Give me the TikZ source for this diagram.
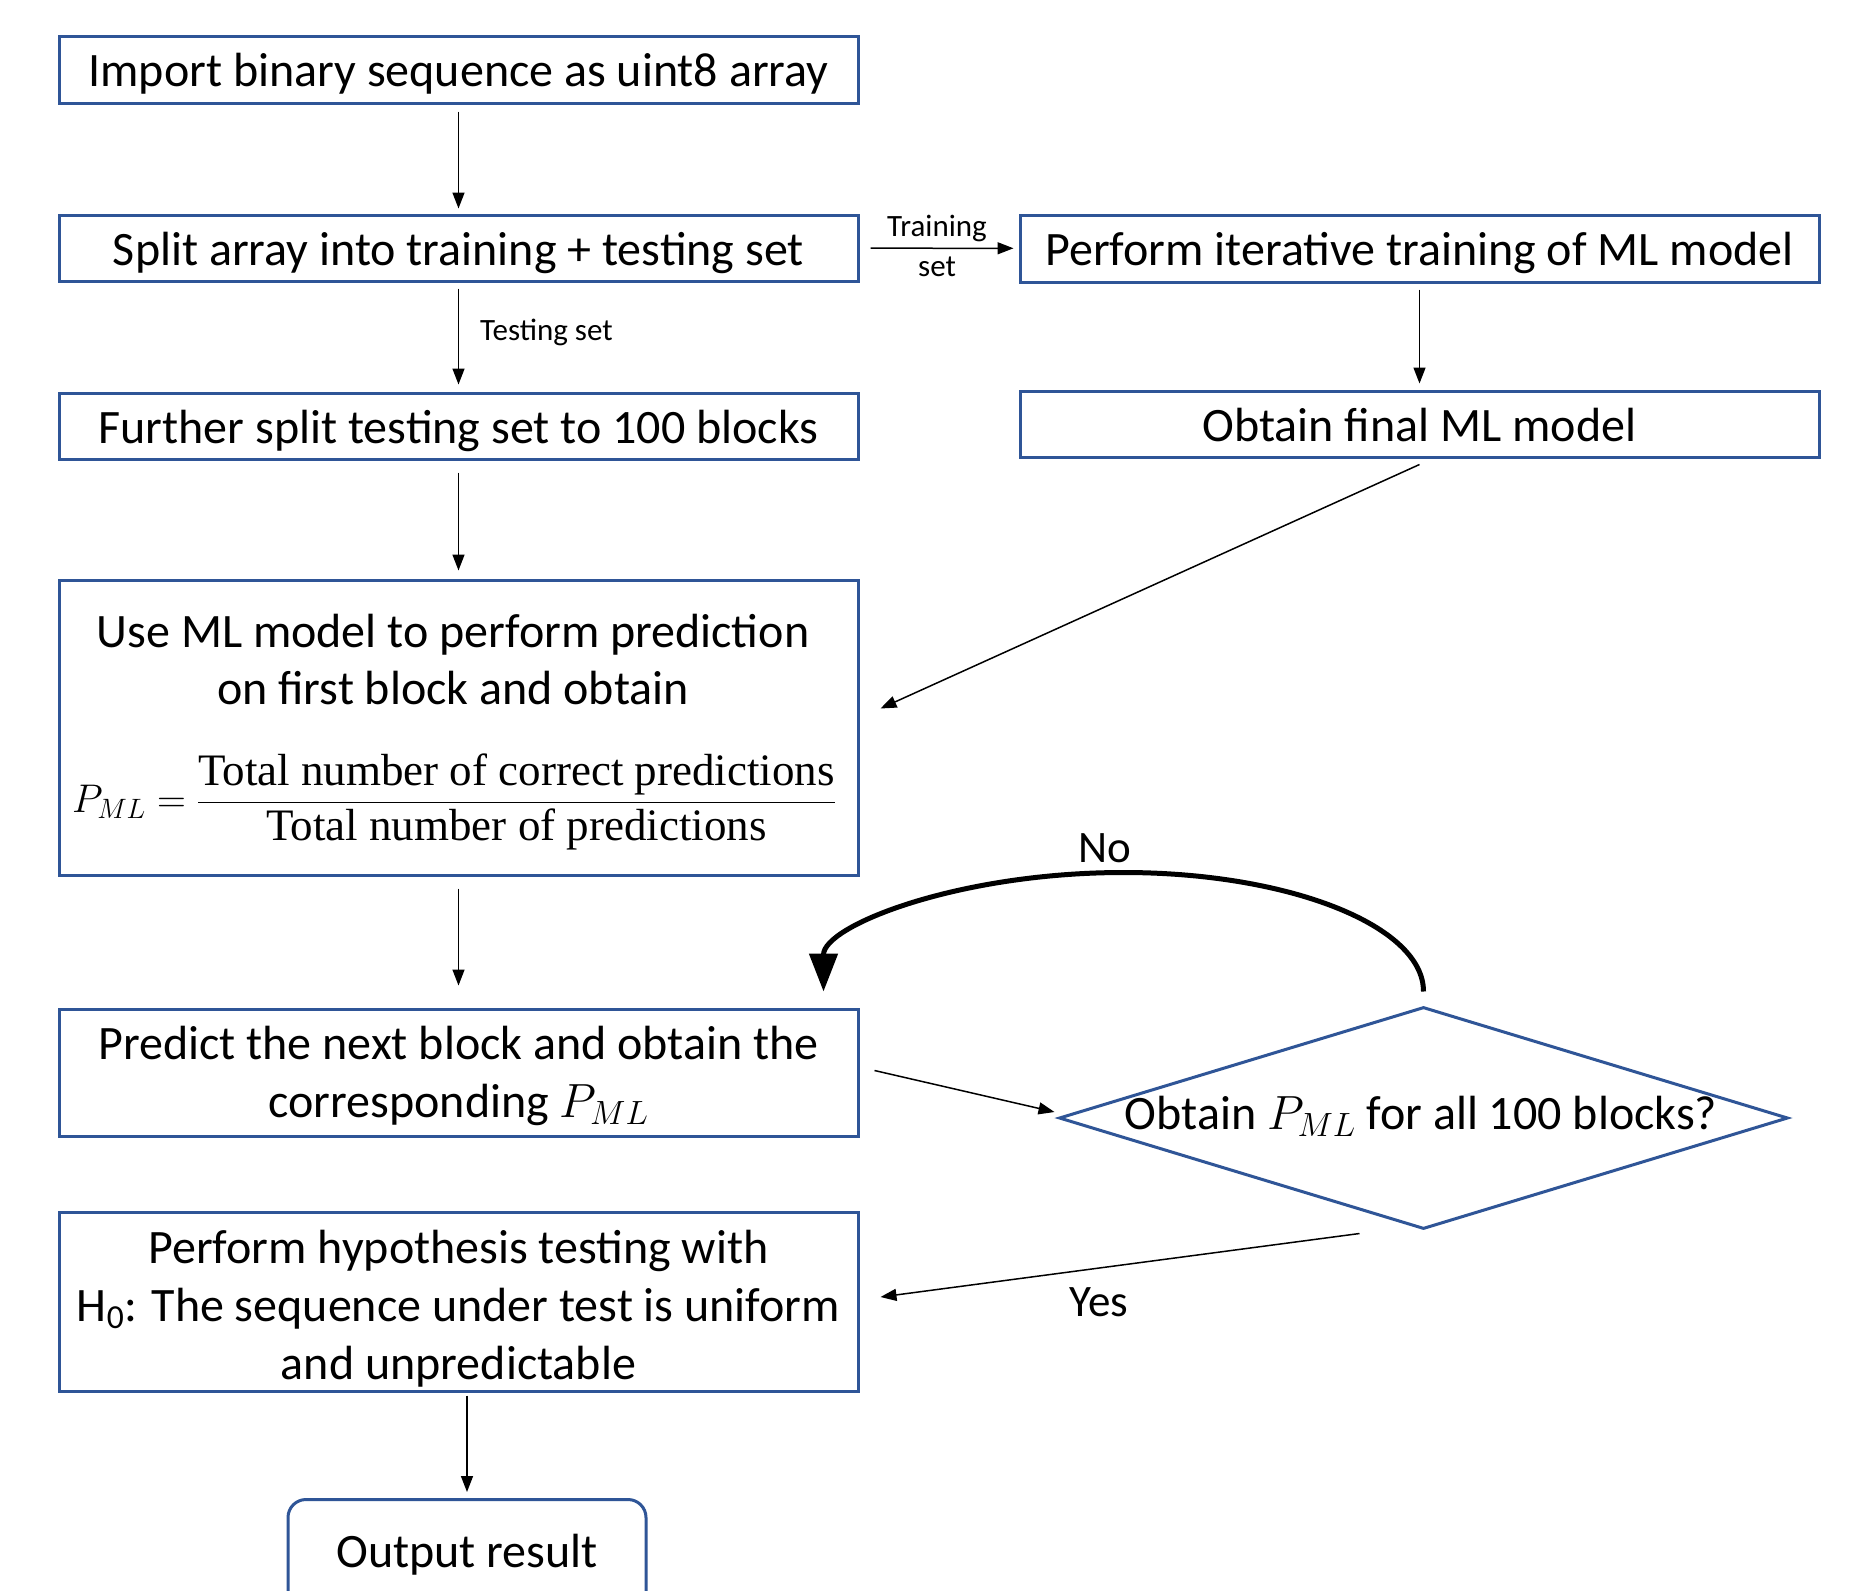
\RequirePackage{fix-cm}
\documentclass[tikz,border=0pt]{standalone}
\usepackage{amsmath}
\usepackage{fontspec}
\setmainfont{Carlito}
\newfontfamily\serifx{Liberation Serif}
\usetikzlibrary{arrows.meta,shapes.geometric,calc}
\definecolor{boxblue}{RGB}{47,85,151}
\newcommand{\fractxt}[1]{\text{\fontsize{45}{50}\selectfont\serifx #1}}
\begin{document}
\begin{tikzpicture}[x=1pt,y=-1pt,
  box/.style={draw=boxblue, line width=3pt, minimum width=799pt, inner sep=4pt, text height=44pt, text depth=10pt, align=center, font=\fontsize{48}{58}\selectfont},
  txt/.style={inner sep=0pt, align=center, font=\fontsize{48}{58}\selectfont},
  arr/.style={-{Triangle[length=16pt,width=12pt]}, line width=1.5pt},
  lbl/.style={font=\fontsize{31}{36}\selectfont, inner sep=0pt},
  lblb/.style={font=\fontsize{45}{50}\selectfont, inner sep=0pt}]
\useasboundingbox (0,0) rectangle (1860,1590);
\fill[white] (0,0) rectangle (1860,1590);

\node[box, minimum height=67pt] (b1) at (458.5,69.5) {Import binary sequence as uint8 array};
\node[box, minimum height=66pt] (b2) at (458.5,248) {Split array into training + testing set};
\node[box, minimum height=66pt] (b3) at (458.5,426) {Further split testing set to 100 blocks};
\node[box, minimum height=67pt] (b4) at (1419.5,248.5) {Perform iterative training of ML model};
\node[box, minimum height=66pt] (b5) at (1419.5,424) {Obtain final ML model};
\node[box, minimum height=295pt] (b6) at (458.5,727.5) {};
\node[txt] (t6a) at (453,635) {Use ML model to perform prediction};
\node[txt] (t6b) at (453,688) {on first block and obtain};
\node[inner sep=0pt, font=\fontsize{40}{50}\selectfont] (f6) at (454,802)
  {$P_{ML} = \dfrac{\fractxt{Total number of correct predictions}}{\fractxt{Total number of predictions}}$};
\node[box, minimum height=127pt] (b7) at (458.5,1072.5) {};
\node[txt] (t7) at (458.5,1075.5) {Predict the next block and obtain the\\ corresponding $P_{ML}$};
\node[box, minimum height=179pt] (b8) at (458.5,1301.5) {};
\node[txt] (t8) at (458.5,1308.5) {Perform hypothesis testing with\\ H\textsubscript{0}: The sequence under test is uniform\\ and unpredictable};
\node[draw=boxblue, line width=3pt, rounded corners=18pt, minimum width=358pt, minimum height=140pt, anchor=north] (b9) at (467,1498) {};
\node[txt] (t9) at (467,1555) {Output result};

\node[draw=boxblue, line width=3pt, diamond, minimum width=729pt, minimum height=222pt, inner sep=0pt] (dia) at (1423.5,1118) {};
\node[txt] (tdia) at (1421,1116) {Obtain $P_{ML}$ for all 100 blocks?};

% connectors
\draw[arr, shorten <=7pt, shorten >=5pt] (b1) -- (b2);
\draw[arr, shorten <=6pt, shorten >=7pt] (b2) -- (b3);
\node[lbl, anchor=west] (lt) at (480,332) {Testing set};
\draw[arr, shorten <=11pt, shorten >=5pt] (b2) -- (b4);
\node[lbl] (ltr1) at (937,228) {Training};
\node[lbl] (ltr2) at (937,267) {set};
\draw[arr, shorten <=6pt, shorten >=6pt] (b4) -- (b5);
\draw[arr, shorten <=12pt, shorten >=8pt] (b3) -- (b6);
\draw[arr] ($(b5.south)+(0,6)$) -- ($(b6.east)+(21,-19)$);
\draw[arr, shorten <=12pt, shorten >=22pt] (b6) -- (b7);
\draw[arr] ($(b7.east)+(15,-2)$) -- ($(dia.west)+(-3,-6)$);
\draw[line width=5pt, -{Triangle[length=38pt,width=28pt]}] ($(dia.north)+(0,-14)$) arc[start angle=0, end angle=180, x radius=300pt, y radius=119pt];
\node[lblb] (no) at (1105,848) {No};
\draw[arr] ($(dia.south)+(-64,3)$) -- ($(b8.east)+(21,-4.5)$);
\node[lblb] (yes) at (1099,1302) {Yes};
\draw[arr, shorten <=3pt, shorten >=6pt] (b9.north |- b8.south) -- (b9.north);
\end{tikzpicture}
\end{document}
